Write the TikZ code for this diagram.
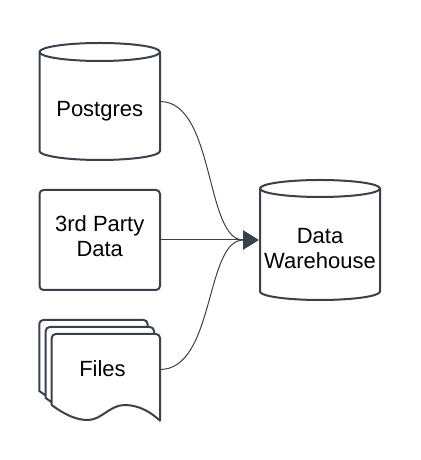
\documentclass[tikz,border=0pt]{standalone}
\usepackage{fontspec}
\setmainfont{Liberation Sans}
\usetikzlibrary{arrows.meta}
\definecolor{lucid}{HTML}{3A414A}
\begin{document}
\begin{tikzpicture}[x=1pt,y=1pt,
  shapeline/.style={draw=lucid, line width=2pt, fill=white, line join=round},
  holder/.style={draw=none, inner sep=0pt, outer sep=0pt},
  lbl/.style={anchor=base, inner sep=0pt, font=\fontsize{22}{25}\selectfont, text=black},
  conn/.style={draw=lucid, line width=1pt, -{Triangle[length=15.5pt,width=19pt]}, shorten >=1.5pt},
  filepage/.pic={
    \draw[shapeline] (0,-71) -- (0,-4) arc[start angle=180,end angle=90,radius=4pt]
      -- (104.3,0) arc[start angle=90,end angle=0,radius=4pt]
      -- (108.3,-86.7) .. controls (100,-79) and (88,-71) .. (73,-71)
      .. controls (58,-71) and (50,-86) .. (36,-86)
      .. controls (24,-86) and (12,-80) .. (0,-71) -- cycle;
  }]
\useasboundingbox (0,0) rectangle (420,460);

% holders
\node[holder, minimum width=120.5pt, minimum height=117pt] (pg) at (99.75,358.5) {};
\node[holder, minimum width=120.5pt, minimum height=100pt] (tp) at (99.75,220) {};
\node[holder, minimum width=120pt, minimum height=120pt] (dw) at (320,220) {};
\node[holder, minimum width=108.3pt, minimum height=71pt] (fl) at (105.85,90.5) {};

% Postgres cylinder
\draw[shapeline] ([yshift=-9pt]pg.north west) -- ([yshift=9pt]pg.south west)
  arc[start angle=180,end angle=360,x radius=60.25pt,y radius=9pt]
  -- ([yshift=-9pt]pg.north east)
  arc[start angle=0,end angle=180,x radius=60.25pt,y radius=9pt] -- cycle;
\draw[shapeline, fill=none] ([yshift=-9pt]pg.north west)
  arc[start angle=180,end angle=360,x radius=60.25pt,y radius=9pt];

% Data warehouse cylinder
\draw[shapeline] ([yshift=-8.5pt]dw.north west) -- ([yshift=8.5pt]dw.south west)
  arc[start angle=180,end angle=360,x radius=60pt,y radius=8.5pt]
  -- ([yshift=-8.5pt]dw.north east)
  arc[start angle=0,end angle=180,x radius=60pt,y radius=8.5pt] -- cycle;
\draw[shapeline, fill=none] ([yshift=-8.5pt]dw.north west)
  arc[start angle=180,end angle=360,x radius=60pt,y radius=8.5pt];

% 3rd party box
\draw[shapeline, rounded corners=4pt] (tp.south west) rectangle (tp.north east);

% Files stack
\pic at ([shift={(-12.4,14)}]fl.north west) {filepage};
\pic at ([shift={(-6,7)}]fl.north west) {filepage};
\pic at (fl.north west) {filepage};

% labels
\node[lbl] (pgT) at (99.75,343.3) {Postgres};
\node[lbl] (tpT) at (99.75,228.3) {\begin{tabular}[t]{@{}c@{}}3rd Party\\Data\end{tabular}};
\node[lbl] (dwT) at (320,216.7) {\begin{tabular}[t]{@{}c@{}}Data\\Warehouse\end{tabular}};
\node[lbl] (flT) at (102.5,83.3) {Files};

% connectors
\draw[conn] (pg.east) .. controls +(55,0) and +(-55,0) .. (dw.west);
\draw[conn] (tp.east) -- (dw.west);
\draw[conn] (fl.east) .. controls +(55,0) and +(-55,0) .. (dw.west);
\end{tikzpicture}
\end{document}
